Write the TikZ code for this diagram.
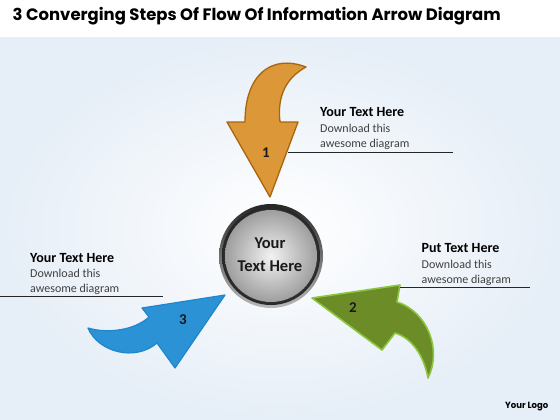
\documentclass[tikz,border=0pt]{standalone}
\usepackage{fontspec}
\setmainfont{Carlito}
\newfontfamily\titlefont{Poppins}
\usepackage{graphicx}
\definecolor{bgblue}{HTML}{E6EEF7}
\definecolor{txtgray}{HTML}{404040}
\definecolor{orA}{HTML}{BF7A22}
\definecolor{orB}{HTML}{DC9838}
\definecolor{orEdge}{HTML}{A8650F}
\definecolor{grA}{HTML}{6C8C28}
\definecolor{grB}{HTML}{9DC24C}
\definecolor{grEdge}{HTML}{8CC63F}
\definecolor{blA}{HTML}{2B92D6}
\definecolor{blB}{HTML}{74CCF6}
\definecolor{blEdge}{HTML}{1F86CC}
\tikzset{
  headtxt/.style={anchor=base west, inner sep=0, font=\fontsize{14}{16}\selectfont\bfseries, text=black},
  bodytxt/.style={anchor=base west, inner sep=0, font=\fontsize{12}{14}\selectfont, text=txtgray},
  numtxt/.style={inner sep=0, font=\fontsize{15}{17}\selectfont\bfseries, text=black!90},
  guide/.style={draw=black!85, line width=0.9pt},
  orarrow/.style={left color=orB, middle color=orA, right color=orB, draw=orEdge, line width=1.3pt, line join=round},
  grarrow/.style={left color=grA, middle color=grB, right color=grA, draw=grEdge, line width=1.6pt, line join=round},
  blarrow/.style={left color=blA, middle color=blB, right color=blA, draw=blEdge, line width=1.2pt, line join=round},
}
\begin{document}
\begin{tikzpicture}[x=1pt,y=-1pt]
\useasboundingbox (0,0) rectangle (560,420);
% background
\fill[white] (0,0) rectangle (560,420);
\shade[inner color=white, outer color=bgblue] (0,38) rectangle (560,420);
% title
\node[anchor=base west, inner sep=0] (title) at (12.5,20.7)
  {\resizebox{488pt}{\height}{\fontsize{16.5}{18}\selectfont\titlefont\bfseries 3 Converging Steps Of Flow Of Information Arrow Diagram}};
% arrow 1 (orange)
\path[orarrow] (306,67) .. controls (272,54) and (245,74) .. (245,122)
  -- (227,122) -- (270,197) -- (298,122) -- (280,122)
  .. controls (277,96) and (286,78) .. (306,67) -- cycle;
% arrow 2 (green)
\path[grarrow] (312,298) -- (400,285) -- (397,302)
  .. controls (428,312) and (442,350) .. (428,378)
  .. controls (424,356) and (412,338) .. (395,333)
  -- (382,350) -- cycle;
% arrow 3 (blue)
\path[blarrow] (225,295) -- (142,308) -- (149,317)
  .. controls (135,330) and (108,334) .. (88,328)
  .. controls (98,352) and (135,362) .. (157,343)
  -- (175,368) -- cycle;
% numbers
\node[numtxt] (n1) at (266,153) {1};
\node[numtxt] (n2) at (353,308) {2};
\node[numtxt] (n3) at (183,320) {3};
% hub circle
\coordinate (hc) at (271,256);
\shade[top color=black!85, bottom color=gray!55] (hc) circle (52);
\shade[inner color=black!30, outer color=black!85] (hc) circle (49);
\shade[inner color=black!5, outer color=black!38] (hc) circle (46);
\node[inner sep=0, align=center, font=\fontsize{16.5}{23}\selectfont\bfseries, text=black!90] (hub) at (270,255) {Your\\Text Here};
% text block 1
\node[headtxt] (h1) at (320,117) {Your Text Here};
\node[bodytxt] (b1a) at (320,132.5) {Download this};
\node[bodytxt] (b1b) at (320,147.5) {awesome diagram};
\coordinate (l1a) at (288,152);
\coordinate (l1b) at (453,152);
\draw[guide] (l1a) -- (l1b);
% text block 2
\node[headtxt] (h2) at (421.5,252) {Put Text Here};
\node[bodytxt] (b2a) at (421.5,268) {Download this};
\node[bodytxt] (b2b) at (421.5,283) {awesome diagram};
\coordinate (l2a) at (400,287);
\coordinate (l2b) at (530,287);
\draw[guide] (l2a) -- (l2b);
% text block 3
\node[headtxt] (h3) at (30,262) {Your Text Here};
\node[bodytxt] (b3a) at (30,277) {Download this};
\node[bodytxt] (b3b) at (30,292) {awesome diagram};
\coordinate (l3a) at (0,296);
\coordinate (l3b) at (163,296);
\draw[guide] (l3a) -- (l3b);
% logo
\node[anchor=base west, inner sep=0] (logo) at (505,408)
  {\resizebox{43pt}{\height}{\fontsize{9}{11}\selectfont\titlefont\bfseries Your Logo}};
\end{tikzpicture}
\end{document}
